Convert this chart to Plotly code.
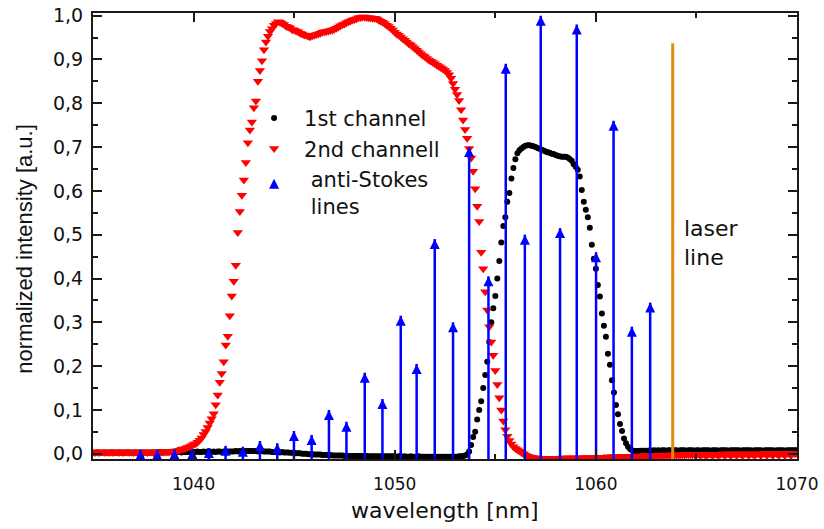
import numpy as np
import plotly.graph_objects as go

# Spectra sampled on a 0.1 nm grid starting at 1035.0 nm
wl_start = 1035.0
wl_step = 0.1

# 1st channel (normalized intensity), one row per nm
ch1 = [
    0.003, 0.002, 0.003, 0.003, 0.002, 0.003, 0.003, 0.002, 0.003, 0.003,  # 1035
    0.003, 0.002, 0.003, 0.003, 0.003, 0.002, 0.003, 0.003, 0.003, 0.002,  # 1036
    0.003, 0.003, 0.002, 0.003, 0.003, 0.003, 0.003, 0.002, 0.003, 0.003,  # 1037
    0.003, 0.003, 0.003, 0.004, 0.003, 0.003, 0.004, 0.003, 0.004, 0.004,  # 1038
    0.003, 0.004, 0.004, 0.004, 0.003, 0.004, 0.004, 0.004, 0.004, 0.004,  # 1039
    0.004, 0.004, 0.005, 0.004, 0.004, 0.005, 0.004, 0.005, 0.005, 0.004,  # 1040
    0.005, 0.004, 0.005, 0.005, 0.004, 0.005, 0.005, 0.005, 0.005, 0.005,  # 1041
    0.005, 0.006, 0.005, 0.006, 0.006, 0.005, 0.006, 0.006, 0.006, 0.006,  # 1042
    0.006, 0.006, 0.005, 0.006, 0.006, 0.005, 0.005, 0.005, 0.005, 0.004,  # 1043
    0.004, 0.004, 0.004, 0.003, 0.004, 0.003, 0.003, 0.003, 0.002, 0.002,  # 1044
    0.002, 0.001, 0.001, 0.001, 0.000, 0.000, 0.000, -0.001, -0.001, -0.001,  # 1045
    -0.002, -0.002, -0.002, -0.002, -0.003, -0.003, -0.003, -0.003, -0.003, -0.004,  # 1046
    -0.004, -0.004, -0.004, -0.004, -0.004, -0.005, -0.004, -0.005, -0.005, -0.005,  # 1047
    -0.005, -0.005, -0.005, -0.005, -0.005, -0.006, -0.005, -0.006, -0.006, -0.006,  # 1048
    -0.006, -0.006, -0.006, -0.006, -0.006, -0.006, -0.006, -0.006, -0.006, -0.006,  # 1049
    -0.006, -0.007, -0.006, -0.006, -0.007, -0.006, -0.007, -0.007, -0.006, -0.007,  # 1050
    -0.007, -0.007, -0.006, -0.007, -0.007, -0.007, -0.007, -0.007, -0.007, -0.007,  # 1051
    -0.007, -0.007, -0.007, -0.007, -0.007, -0.007, -0.007, -0.007, -0.007, -0.007,  # 1052
    -0.007, -0.007, -0.006, -0.006, -0.005, -0.004, -0.002, 0.005, 0.020, 0.038,  # 1053
    0.050, 0.078, 0.100, 0.120, 0.150, 0.180, 0.210, 0.255, 0.300, 0.332,  # 1054
    0.360, 0.400, 0.440, 0.482, 0.520, 0.540, 0.575, 0.595, 0.628, 0.652,  # 1055
    0.672, 0.686, 0.693, 0.697, 0.700, 0.703, 0.704, 0.704, 0.703, 0.702,  # 1056
    0.700, 0.698, 0.696, 0.694, 0.692, 0.690, 0.688, 0.687, 0.685, 0.684,  # 1057
    0.682, 0.680, 0.679, 0.678, 0.678, 0.678, 0.676, 0.673, 0.669, 0.661,  # 1058
    0.655, 0.648, 0.633, 0.602, 0.575, 0.557, 0.540, 0.516, 0.477, 0.445,  # 1059
    0.422, 0.385, 0.359, 0.320, 0.292, 0.267, 0.228, 0.203, 0.168, 0.140,  # 1060
    0.111, 0.090, 0.068, 0.052, 0.035, 0.024, 0.016, 0.011, 0.008, 0.006,  # 1061
    0.006, 0.006, 0.007, 0.007, 0.007, 0.007, 0.007, 0.008, 0.007, 0.008,  # 1062
    0.007, 0.008, 0.007, 0.008, 0.008, 0.007, 0.008, 0.008, 0.007, 0.008,  # 1063
    0.008, 0.007, 0.008, 0.008, 0.008, 0.007, 0.008, 0.008, 0.008, 0.007,  # 1064
    0.008, 0.008, 0.007, 0.008, 0.008, 0.008, 0.008, 0.007, 0.008, 0.008,  # 1065
    0.008, 0.007, 0.008, 0.008, 0.008, 0.008, 0.007, 0.008, 0.008, 0.008,  # 1066
    0.008, 0.008, 0.007, 0.008, 0.008, 0.008, 0.008, 0.008, 0.007, 0.008,  # 1067
    0.008, 0.008, 0.008, 0.007, 0.008, 0.008, 0.008, 0.008, 0.008, 0.007,  # 1068
    0.008, 0.008, 0.008, 0.008, 0.007, 0.008, 0.008, 0.008, 0.008, 0.008,  # 1069
    0.008,  # 1070
]

# 2nd channel (normalized intensity), one row per nm
ch2 = [
    0.004, 0.003, 0.004, 0.003, 0.004, 0.004, 0.003, 0.004, 0.003, 0.004,  # 1035
    0.003, 0.004, 0.004, 0.003, 0.004, 0.003, 0.004, 0.004, 0.003, 0.004,  # 1036
    0.003, 0.004, 0.003, 0.004, 0.004, 0.003, 0.004, 0.003, 0.004, 0.004,  # 1037
    0.003, 0.004, 0.004, 0.003, 0.004, 0.004, 0.004, 0.005, 0.004, 0.005,  # 1038
    0.005, 0.006, 0.007, 0.008, 0.010, 0.011, 0.012, 0.014, 0.016, 0.018,  # 1039
    0.021, 0.023, 0.026, 0.031, 0.036, 0.044, 0.051, 0.060, 0.070, 0.080,  # 1040
    0.091, 0.112, 0.134, 0.163, 0.183, 0.210, 0.248, 0.268, 0.315, 0.360,  # 1041
    0.394, 0.430, 0.505, 0.553, 0.590, 0.625, 0.665, 0.710, 0.739, 0.757,  # 1042
    0.790, 0.805, 0.850, 0.875, 0.897, 0.922, 0.940, 0.953, 0.964, 0.970,  # 1043
    0.978, 0.982, 0.986, 0.985, 0.982, 0.980, 0.976, 0.974, 0.972, 0.968,  # 1044
    0.967, 0.965, 0.963, 0.960, 0.958, 0.956, 0.955, 0.953, 0.952, 0.954,  # 1045
    0.955, 0.957, 0.958, 0.960, 0.962, 0.963, 0.964, 0.965, 0.966, 0.967,  # 1046
    0.969, 0.971, 0.974, 0.977, 0.979, 0.981, 0.984, 0.986, 0.988, 0.990,  # 1047
    0.991, 0.993, 0.995, 0.996, 0.997, 0.997, 0.996, 0.995, 0.995, 0.994,  # 1048
    0.994, 0.993, 0.990, 0.987, 0.985, 0.982, 0.978, 0.975, 0.971, 0.967,  # 1049
    0.962, 0.958, 0.955, 0.951, 0.947, 0.944, 0.940, 0.936, 0.933, 0.929,  # 1050
    0.925, 0.921, 0.917, 0.913, 0.909, 0.906, 0.902, 0.899, 0.896, 0.893,  # 1051
    0.890, 0.887, 0.884, 0.881, 0.878, 0.875, 0.870, 0.865, 0.857, 0.845,  # 1052
    0.832, 0.820, 0.806, 0.785, 0.762, 0.740, 0.720, 0.697, 0.675, 0.645,  # 1053
    0.605, 0.565, 0.530, 0.460, 0.422, 0.370, 0.328, 0.290, 0.255, 0.225,  # 1054
    0.190, 0.158, 0.128, 0.100, 0.075, 0.055, 0.040, 0.030, 0.022, 0.016,  # 1055
    0.012, 0.009, 0.006, 0.003, 0.000, -0.003, -0.005, -0.007, -0.008, -0.009,  # 1056
    -0.010, -0.010, -0.011, -0.011, -0.011, -0.011, -0.011, -0.011, -0.011, -0.011,  # 1057
    -0.011, -0.011, -0.011, -0.010, -0.011, -0.010, -0.010, -0.010, -0.010, -0.010,  # 1058
    -0.010, -0.010, -0.010, -0.009, -0.010, -0.009, -0.009, -0.009, -0.009, -0.009,  # 1059
    -0.009, -0.008, -0.008, -0.008, -0.008, -0.008, -0.007, -0.008, -0.007, -0.007,  # 1060
    -0.007, -0.007, -0.007, -0.006, -0.007, -0.006, -0.006, -0.006, -0.006, -0.006,  # 1061
    -0.006, -0.005, -0.006, -0.005, -0.005, -0.005, -0.005, -0.005, -0.004, -0.005,  # 1062
    -0.004, -0.004, -0.004, -0.004, -0.004, -0.003, -0.004, -0.003, -0.003, -0.003,  # 1063
    -0.003, -0.003, -0.003, -0.002, -0.003, -0.002, -0.002, -0.002, -0.002, -0.002,  # 1064
    -0.002, -0.001, -0.004, -0.001, -0.002, -0.004, -0.001, -0.001, -0.004, -0.001,  # 1065
    -0.001, -0.004, -0.001, 0.000, -0.004, -0.001, 0.000, -0.004, -0.001, 0.000,  # 1066
    -0.004, 0.000, -0.001, -0.004, 0.000, 0.000, -0.004, 0.000, -0.001, -0.004,  # 1067
    0.000, 0.000, -0.004, 0.000, 0.001, -0.004, 0.000, 0.000, -0.004, 0.001,  # 1068
    0.000, -0.004, 0.001, 0.000, -0.004, 0.001, 0.000, -0.004, 0.001, 0.000,  # 1069
    0.001,  # 1070
]

# anti-Stokes lines: position (nm) and peak intensity
as_nm = [1037.36, 1038.19, 1039.05, 1039.94, 1040.76, 1041.59, 1042.45, 1043.30,
         1044.16, 1044.99, 1045.87, 1046.73, 1047.60, 1048.51, 1049.39, 1050.30,
         1051.09, 1051.99, 1052.90, 1053.70, 1054.66, 1055.52, 1056.47, 1057.26,
         1058.22, 1059.05, 1060.01, 1060.88, 1061.79, 1062.70]
as_int = [0.009, 0.009, 0.010, 0.011, 0.013, 0.018, 0.016, 0.029,
          0.024, 0.052, 0.043, 0.100, 0.073, 0.185, 0.125, 0.315,
          0.205, 0.490, 0.300, 0.700, 0.405, 0.890, 0.500, 1.000,
          0.515, 0.980, 0.460, 0.760, 0.290, 0.345]

# pump laser line
laser_nm = 1063.82
laser_int = 0.937

x_tick_vals = [1040, 1050, 1060, 1070]
x_tick_text = ["1040", "1050", "1060", "1070"]
y_tick_vals = [0.0, 0.1, 0.2, 0.3, 0.4, 0.5, 0.6, 0.7, 0.8, 0.9, 1.0]
y_tick_text = ["0,0", "0,1", "0,2", "0,3", "0,4", "0,5", "0,6", "0,7", "0,8", "0,9", "1,0"]

X_RANGE = [1035, 1070]
Y_RANGE = [-0.012, 1.006]
BASE = Y_RANGE[0]

wl1 = np.round(wl_start + wl_step * np.arange(len(ch1)), 1)
wl2 = np.round(wl_start + wl_step * np.arange(len(ch2)), 1)

# stems of the anti-Stokes lines, drawn as separated segments
stem_x, stem_y = [], []
for w, v in zip(as_nm, as_int):
    stem_x += [w, w, None]
    stem_y += [BASE, v, None]

SANS = "DejaVu Sans"

fig = go.Figure()

fig.add_trace(go.Scatter(
    x=wl1, y=ch1, mode="markers", name="1st channel",
    marker=dict(symbol="circle", size=6, color="black", line=dict(width=0)),
))
fig.add_trace(go.Scatter(
    x=wl2, y=ch2, mode="markers", name="2nd channell",
    marker=dict(symbol="triangle-down", size=9, color="#FF0000", line=dict(width=0)),
))
fig.add_trace(go.Scatter(
    x=stem_x, y=stem_y, mode="lines", showlegend=False,
    line=dict(color="#0000FF", width=2.5), hoverinfo="skip",
))
fig.add_trace(go.Scatter(
    x=as_nm, y=as_int, mode="markers", name=" anti-Stokes<br> lines",
    marker=dict(symbol="arrow-up", size=10, color="#0000FF", line=dict(width=0)),
))
fig.add_trace(go.Scatter(
    x=[laser_nm, laser_nm], y=[BASE, laser_int], mode="lines", showlegend=False,
    line=dict(color="#E38A14", width=3),
))

axis_common = dict(
    showline=True, linewidth=2, linecolor="#1a1a1a", mirror="ticks",
    ticks="inside", ticklen=9, tickwidth=2, tickcolor="#1a1a1a",
    showgrid=False, zeroline=False, automargin=False,
)

fig.update_xaxes(
    range=X_RANGE, tickmode="array", tickvals=x_tick_vals, ticktext=x_tick_text,
    tickfont=dict(family=SANS, size=17, color="#111"), ticklabelstandoff=9,
    minor=dict(tickmode="linear", tick0=1035, dtick=5, ticks="inside", ticklen=5,
               tickwidth=2, tickcolor="#1a1a1a"),
    **axis_common,
)
fig.update_yaxes(
    range=Y_RANGE, tickmode="array", tickvals=y_tick_vals, ticktext=y_tick_text,
    tickfont=dict(family=SANS, size=19, color="#111"), ticklabelstandoff=4,
    minor=dict(tickmode="linear", tick0=0, dtick=0.05, ticks="inside", ticklen=5,
               tickwidth=2, tickcolor="#1a1a1a"),
    **axis_common,
)

fig.add_annotation(
    text="wavelength [nm]", xref="paper", yref="paper", x=0.5, y=-0.115,
    xanchor="center", yanchor="middle", showarrow=False,
    font=dict(family=SANS, size=22, color="#111"),
)
fig.add_annotation(
    text="normalized intensity [a.u.]", xref="paper", yref="paper", x=-0.097, y=0.471,
    xanchor="center", yanchor="middle", textangle=-90, showarrow=False,
    font=dict(family="Liberation Sans", size=22, color="#111"),
)
fig.add_annotation(
    text="laser<br>line", x=laser_nm + 0.45, y=0.48, xref="x", yref="y",
    xanchor="left", yanchor="middle", align="left", showarrow=False,
    font=dict(family=SANS, size=22, color="#111"),
)

fig.update_layout(
    width=824, height=529,
    margin=dict(l=93, r=27, t=13, b=70, autoexpand=False),
    paper_bgcolor="white", plot_bgcolor="white",
    showlegend=True,
    legend=dict(
        x=0.2146, y=0.8095, xanchor="left", yanchor="top",
        bgcolor="rgba(0,0,0,0)", borderwidth=0, valign="top",
        font=dict(family=SANS, size=21, color="#111"),
        itemwidth=50, tracegroupgap=0,
    ),
)

fig.write_html("out.html")
